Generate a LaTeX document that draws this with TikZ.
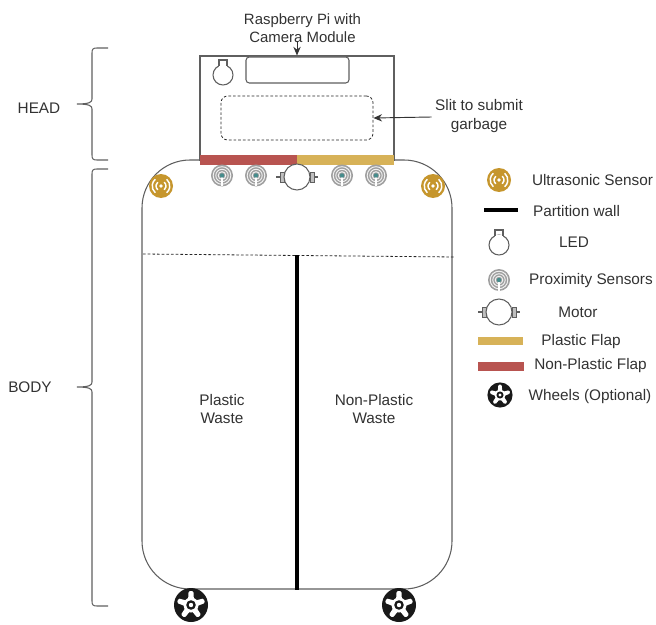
\documentclass[tikz,border=0pt]{standalone}
\usepackage{fontspec}
\setmainfont{Liberation Sans}
\usetikzlibrary{arrows.meta, positioning, calc}
\definecolor{flapred}{RGB}{184, 84, 80}
\definecolor{flapyellow}{RGB}{215, 178, 88}
\definecolor{sensorgold}{RGB}{198, 150, 45}
\definecolor{linegray}{RGB}{95, 95, 95}
\definecolor{textgray}{RGB}{50, 50, 50}
\definecolor{ringteal}{RGB}{70, 140, 140}

\tikzset{
  outline/.style={draw=linegray, line width=0.8pt},
  flap/.style={minimum height=7pt, inner sep=0pt, outer sep=0pt},
  lbl/.style={font=\fontsize{11.5}{14}\selectfont, text=textgray, align=center, inner sep=1pt},
  legendlbl/.style={lbl, font=\fontsize{11.5}{14}\selectfont},
  pointer/.style={-{Stealth[length=6.5pt,width=5.5pt]}, line width=0.7pt, draw=black!80},
  shortdash/.style={draw=black!85, line width=0.6pt, dash pattern=on 2pt off 1.5pt},
  ultrasonic/.pic={
    \fill[sensorgold] (0,0) circle (12);
    \fill[white] (0,0) circle (1.8);
    \foreach \r in {5,8.8}{
      \draw[white, line width=1.1pt] (-50:\r) arc[start angle=-50, end angle=50, radius=\r];
      \draw[white, line width=1.1pt] (130:\r) arc[start angle=130, end angle=230, radius=\r];
    }
  },
  proximity/.pic={
    \fill[gray!75] (0,0) circle (11);
    \foreach \r in {8.8,6.2,3.8}{
      \draw[white!90!gray, line width=0.7pt] (0,0) circle (\r);
    }
    \fill[white] (-1.2,0) rectangle (1.2,10.5);
    \fill[ringteal] (0,0) circle (2.2);
  },
  ledicon/.pic={
    \draw[outline, fill=white] (0,0) circle (10);
    \fill[white] (-4,-8) rectangle (4,-10.5);
    \draw[outline] (-4,-9.2) -- (-4,-15) -- (4,-15) -- (4,-9.2);
  },
  motoricon/.pic={
    \draw[outline] (-21,0) -- (-17,0);
    \draw[outline] (17,0) -- (21,0);
    \draw[linegray, fill=gray!50, line width=0.5pt] (-17,-5) rectangle (-13,5);
    \draw[linegray, fill=gray!50, line width=0.5pt] (13,-5) rectangle (17,5);
    \draw[outline, fill=white] (0,0) circle (13);
  },
  wheelicon/.pic={
    \fill[black!90] (0,0) circle (17);
    \foreach \a in {90,162,234,306,378}{
      \fill[white, rotate=\a, rounded corners=1pt] (0,-3.2) -- (14,-2.4) -- (14,2.4) -- (0,3.2) -- cycle;
    }
    \fill[white] (0,0) circle (7.5);
    \fill[black!90] (0,0) circle (4.8);
    \fill[white] (0,0) circle (2.2);
  }
}

% curly bracket: top end, bottom end, tip height
\newcommand{\curly}[3]{
  \draw[linegray, line width=0.8pt] (108,#1) -- (97,#1) .. controls (93,#1) and (92,#1+1) .. (92,#1+5)
    -- (92,#3-5) .. controls (92,#3-2) and (90,#3) .. (77,#3) .. controls (90,#3) and (92,#3+2) .. (92,#3+5)
    -- (92,#2-5) .. controls (92,#2-1) and (93,#2) .. (97,#2) -- (108,#2);
}

\begin{document}
\begin{tikzpicture}[x=0.75pt, y=-0.75pt]
\useasboundingbox (0,0) rectangle (656,624);

% body and head
\node[outline, fill=white, minimum width=232.5pt, minimum height=321.75pt, rounded corners=36pt, inner sep=0pt] (body) at (297,374.5) {};
\node[outline, fill=white, minimum width=145.5pt, minimum height=78pt, inner sep=0pt] (head) at (297,108) {};
\node[outline, fill=white, minimum width=77.25pt, minimum height=19.5pt, rounded corners=2.5pt, inner sep=0pt] (camera) at (297.5,70) {};
\node[shortdash, minimum width=114pt, minimum height=33pt, rounded corners=5pt, inner sep=0pt] (slit) at (297,118) {};
\node[flap, fill=flapred, minimum width=72.75pt] (redflap) at (248.5,160) {};
\node[flap, fill=flapyellow, minimum width=72.75pt] (yellowflap) at (345.5,160) {};

% parts inside
\pic at (223,75) {ledicon};
\pic at (222,175.5) {proximity};
\pic at (256,175.5) {proximity};
\pic at (342,175.5) {proximity};
\pic at (376,175.5) {proximity};
\pic at (297,177) {motoricon};
\pic at (161,186) {ultrasonic};
\pic at (433,186) {ultrasonic};
\pic at (191,605) {wheelicon};
\pic at (399,605) {wheelicon};

% partition
\coordinate (dashleft) at (143,254);
\coordinate (dashright) at (455,257);
\coordinate (walltop) at (297,255);
\draw[shortdash] (dashleft) -- (dashright);
\draw[black, line width=2.6pt] (walltop) -- (walltop |- body.south);

% labels
\node[lbl, font=\fontsize{11.2}{14}\selectfont] (rpi) at (302.5,28) {Raspberry Pi with\\Camera Module};
\node[lbl] (slitlbl) at (479,116) {Slit to submit\\garbage};
\node[lbl] (plastic) at (222,409) {Plastic\\Waste};
\node[lbl] (nonplastic) at (374,409) {Non-Plastic\\Waste};
\node[lbl] (headlbl) at (39,108) {HEAD};
\node[lbl] (bodylbl) at (30,387) {BODY};
\draw[pointer] (head.north |- rpi.south) ++(0,-3) -- (head.north);
\draw[pointer] (slitlbl.west) ++(-2,1) -- (slit.east);

\curly{48}{160}{104}
\curly{169}{606}{387}

% legend
\pic at (499,180) {ultrasonic};
\coordinate (wallleft) at (484,210);
\coordinate (wallright) at (518,210);
\draw[black, line width=2.6pt] (wallleft) -- (wallright);
\pic at (499,245) {ledicon};
\pic at (499,280) {proximity};
\pic at (499,312) {motoricon};
\node[flap, fill=flapyellow, minimum width=33.75pt, minimum height=6.5pt] (plasticflap) at (500.5,341) {};
\node[flap, fill=flapred, minimum width=34.5pt, minimum height=6.5pt] (nonplasticflap) at (501,366.5) {};
\pic[scale=0.74] at (500,395) {wheelicon};
\node[legendlbl] (ultralbl) at (592.5,180.5) {Ultrasonic Sensor};
\node[legendlbl] (walllbl) at (576.5,211) {Partition wall};
\node[legendlbl] (ledlbl) at (574,242.5) {LED};
\node[legendlbl] (proxlbl) at (591,280.5) {Proximity Sensors};
\node[legendlbl] (motorlbl) at (578,312) {Motor};
\node[legendlbl] (flaplbl) at (581,342) {Plastic Flap};
\node[legendlbl] (nonflaplbl) at (590.5,366) {Non-Plastic Flap};
\node[legendlbl] (wheellbl) at (590,396.5) {Wheels (Optional)};
\end{tikzpicture}
\end{document}
